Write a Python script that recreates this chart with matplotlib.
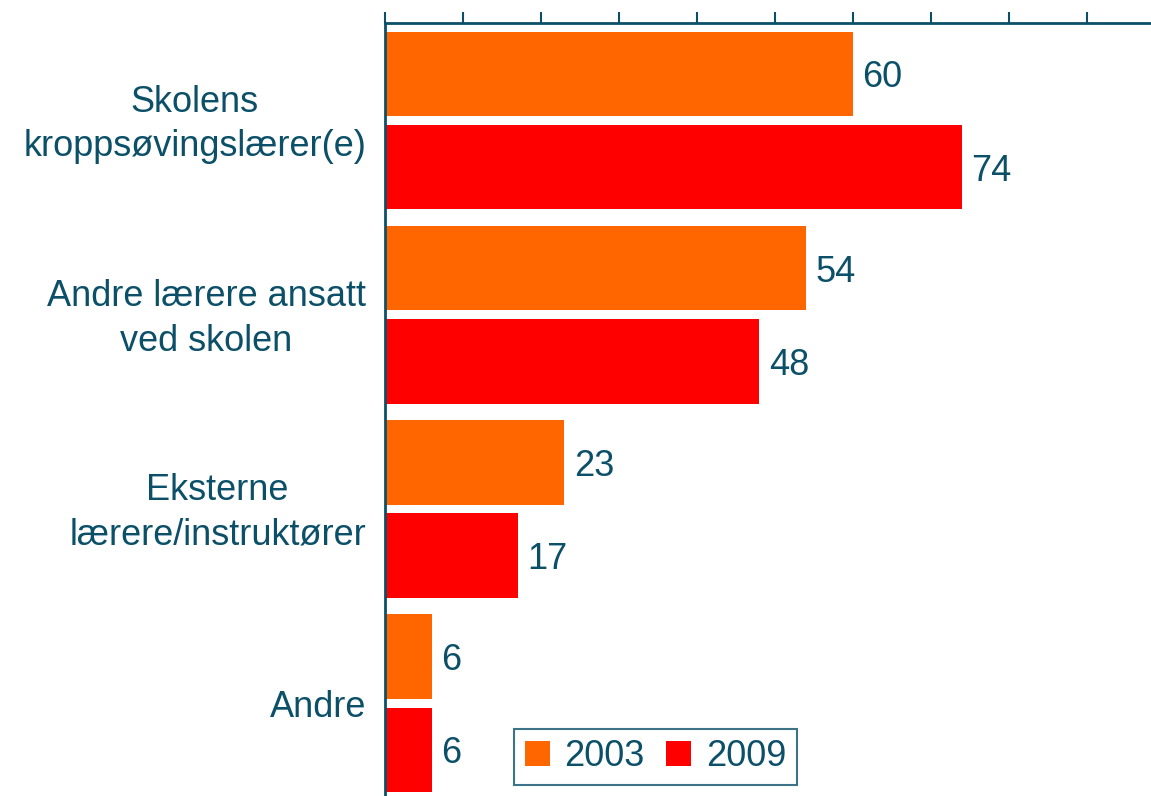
import matplotlib
matplotlib.use("Agg")
import matplotlib.pyplot as plt
import matplotlib.transforms as mtransforms
import numpy as np

# ── Data ──────────────────────────────────────────────────────────────────────
categories = ["Skolens\nkroppsøvingslærer(e)",
              "Andre lærere ansatt\nved skolen",
              "Eksterne\nlærere/instruktører",
              "Andre"]
values_2003 = [60, 54, 23, 6]
values_2009 = [74, 48, 17, 6]
series_names = ["2003", "2009"]

TEAL = "#0b5068"
ORANGE = "#ff6600"
RED = "#ff0000"
FS = 26

plt.rcParams["font.family"] = ["Liberation Sans", "DejaVu Sans"]

fig = plt.figure(figsize=(11.51, 7.96), dpi=100)
ax = fig.add_axes([385 / 1151, 0.0, 1 - 385 / 1151, 1 - 23 / 796])

# small downward nudge so text sits visually centred on its bar
nudge = mtransforms.ScaledTranslation(0, -4 / 100, fig.dpi_scale_trans)

y = np.arange(len(categories))
off = 0.24
h = 0.435
b1 = ax.barh(y - off, values_2003, height=h, color=ORANGE, label=series_names[0])
b2 = ax.barh(y + off, values_2009, height=h, color=RED, label=series_names[1])

for bars, vals in ((b1, values_2003), (b2, values_2009)):
    for bar, v in zip(bars, vals):
        ax.text(bar.get_width() + 1.2, bar.get_y() + bar.get_height() / 2, f"{v}",
                va="center", ha="left", fontsize=FS, color=TEAL,
                transform=ax.transData + nudge)

ax.set_xlim(0, 98.2)
ax.set_ylim(3.477, -0.502)

# spines / ticks
for s in ("right", "bottom"):
    ax.spines[s].set_visible(False)
for s in ("top", "left"):
    ax.spines[s].set_color(TEAL)
    ax.spines[s].set_linewidth(2)
ax.xaxis.set_ticks_position("top")
ax.set_xticks(np.arange(0, 100, 10))
ax.tick_params(axis="x", direction="out", length=8, width=1.5, color=TEAL,
               labeltop=False, labelbottom=False)
ax.set_yticks([])

# category labels: right-aligned block, lines centred within it
trans = mtransforms.blended_transform_factory(fig.transFigure, ax.transData) + nudge
for yi, cat in zip(y, categories):
    ax.text(366 / 1151, yi, cat, transform=trans, ha="right", va="center",
            multialignment="center", fontsize=FS, color=TEAL, linespacing=1.35)

leg = ax.legend(loc="lower left", bbox_to_anchor=(0.168, 0.014), ncol=2,
                fontsize=FS, frameon=True, fancybox=False, handlelength=0.7,
                handleheight=0.7, handletextpad=0.4, columnspacing=0.6,
                borderpad=0.3, borderaxespad=0)
leg.get_frame().set_edgecolor(TEAL)
leg.get_frame().set_linewidth(1.5)
for t in leg.get_texts():
    t.set_color(TEAL)

fig.savefig("out.png", dpi=100)
